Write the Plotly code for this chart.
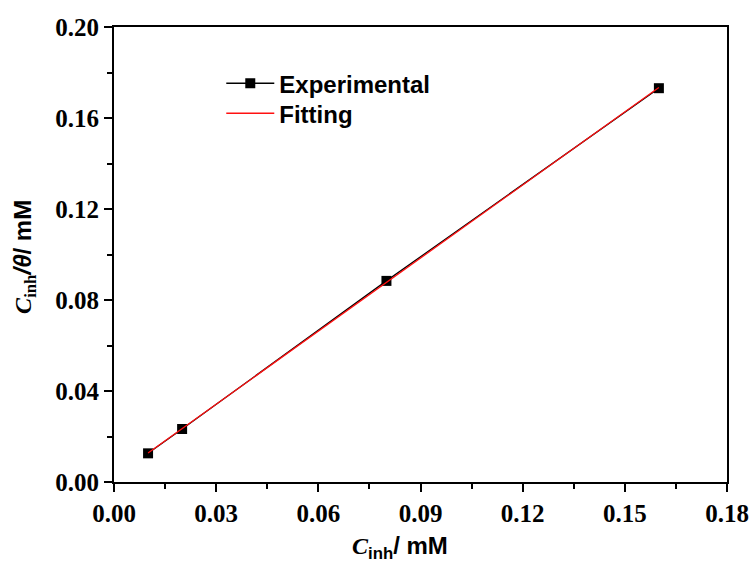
import numpy as np
import plotly.graph_objects as go

c_inh = [0.01, 0.02, 0.08, 0.16]
c_over_theta = [0.0126, 0.0233, 0.0884, 0.1731]

slope, intercept = np.polyfit(c_inh, c_over_theta, 1)
fit_x = [c_inh[0], c_inh[-1]]
fit_y = [slope * v + intercept for v in fit_x]

serif = "Liberation Serif, Times New Roman, serif"
sans = "Liberation Sans, Arial, sans-serif"

fig = go.Figure()
fig.add_trace(go.Scatter(
    x=c_inh, y=c_over_theta, mode="lines+markers", name="Experimental",
    line=dict(color="black", width=1.3),
    marker=dict(symbol="square", size=10, color="black"),
    legend="legend",
))
fig.add_trace(go.Scatter(
    x=fit_x, y=fit_y, mode="lines", name="Fitting",
    line=dict(color="#ff1010", width=1.3),
    legend="legend2",
))

axis_common = dict(
    showgrid=False, zeroline=False, showline=True, linecolor="black", linewidth=2,
    mirror=True, ticks="outside", ticklen=8, tickwidth=2, tickcolor="black",
    tickformat=".2f", automargin=False,
    tickfont=dict(family=serif, size=25, color="black", weight=700),
)

fig.update_xaxes(range=[0, 0.18], tick0=0, dtick=0.03,
                 minor=dict(ticks="outside", dtick=0.015, ticklen=5, tickwidth=2, tickcolor="black"),
                 **axis_common)
fig.update_yaxes(range=[0, 0.20], tick0=0, dtick=0.04,
                 minor=dict(ticks="outside", dtick=0.02, ticklen=5, tickwidth=2, tickcolor="black"),
                 **axis_common)

fig.add_annotation(
    xref="paper", yref="paper", x=0.467, y=-0.145, xanchor="center", yanchor="middle",
    showarrow=False,
    text=(f'<span style="font-family:{serif}"><i><b>C</b></i></span>'
          f'<sub><b>inh</b></sub><b>/ mM</b>'),
    font=dict(family=sans, size=24, color="black"),
)
fig.add_annotation(
    xref="paper", yref="paper", x=-0.145, y=0.495, xanchor="center", yanchor="middle",
    showarrow=False, textangle=-90,
    text=(f'<span style="font-family:{serif}"><i><b>C</b></i><sub><b>inh</b></sub></span>'
          f'<b><i>/θ</i>/ mM</b>'),
    font=dict(family=sans, size=24, color="black"),
)

legend_common = dict(
    xanchor="left", yanchor="top", bgcolor="rgba(0,0,0,0)", itemwidth=48,
    font=dict(family=sans, size=24, color="black", weight=700),
)

fig.update_layout(
    width=750, height=563,
    margin=dict(l=114, r=23, t=27, b=81),
    paper_bgcolor="white", plot_bgcolor="white",
    showlegend=True,
    legend=dict(x=0.175, y=0.925, **legend_common),
    legend2=dict(x=0.175, y=0.859, **legend_common),
)

fig.write_html("out.html", config={"displayModeBar": False},
               post_script="document.body.style.margin='0';")
